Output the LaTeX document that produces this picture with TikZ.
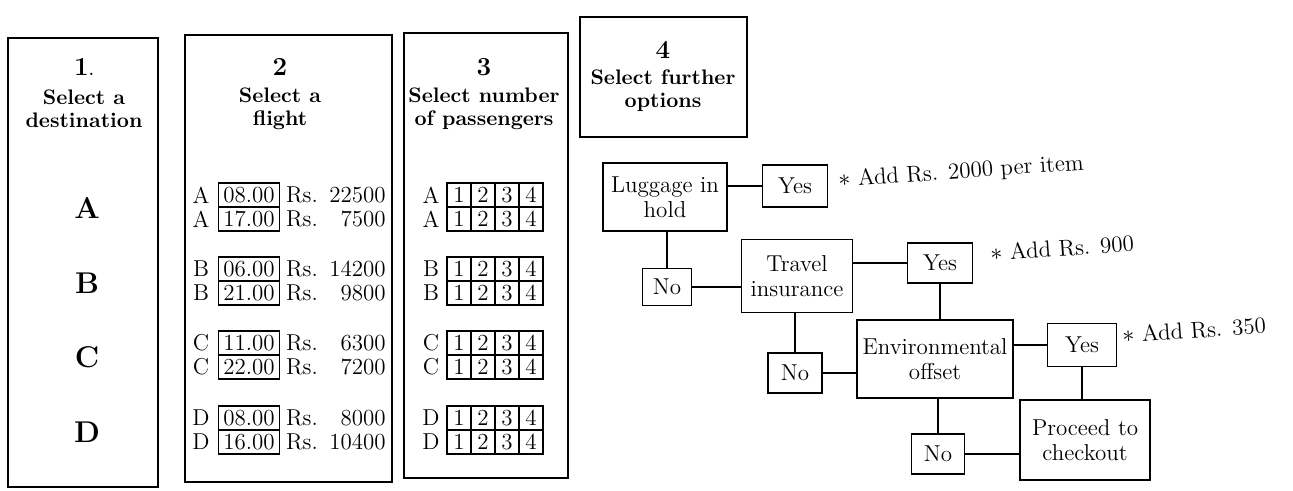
\documentclass[tikz,border=0pt]{standalone}
\usepackage{fontspec}
\begin{document}
\begin{tikzpicture}[x=0.5pt,y=-0.5pt,
  panel/.style={draw,line width=1pt},
  headnum/.style={font=\fontsize{13}{15}\bfseries\selectfont,inner sep=0},
  headtxt/.style={font=\fontsize{10.5}{11.5}\bfseries\selectfont,align=center,inner sep=0},
  dest/.style={font=\fontsize{15}{17}\bfseries\selectfont,inner sep=0},
  rowtxt/.style={font=\fontsize{11.5}{13}\selectfont,inner sep=0},
  tbox/.style={rowtxt,draw,line width=0.8pt,minimum width=30.5pt,minimum height=12pt},
  cell/.style={rowtxt,draw,line width=0.8pt,minimum width=12pt,minimum height=12pt},
  box/.style={draw,line width=0.9pt,align=center,inner sep=0,
              font=\fontsize{11.5}{12.5}\selectfont},
  note/.style={font=\fontsize{11.5}{13}\selectfont,inner sep=0,anchor=west,rotate=4},
  link/.style={line width=0.9pt}]
\useasboundingbox (0,0) rectangle (1293,491);
\fill[white] (0,0) rectangle (1293,491);

% ---- the four column frames ----
\draw[panel] (8,38) rectangle (158,487);
\draw[panel] (185,35) rectangle (392,482);
\draw[panel] (404,33) rectangle (568,478);
\draw[panel] (580,17) rectangle (747,137);

% ---- column headings ----
\node[headnum] (n1) at (84,67) {1{\scriptsize.}};
\node[headtxt] (h1) at (84,109) {Select a\\destination};
\node[headnum] (n2) at (280,67) {2};
\node[headtxt] (h2) at (280,109) {Select a\\flight};
\node[headnum] (n3) at (484,67) {3};
\node[headtxt] (h3) at (484,109) {Select number\\of passengers};
\node[headnum] (n4) at (663,50) {4};
\node[headtxt] (h4) at (663,91) {Select further\\options};

% ---- 1: destinations ----
\node[dest] (dA) at (87,208) {A};
\node[dest] (dB) at (87,283) {B};
\node[dest] (dC) at (87,357) {C};
\node[dest] (dD) at (87,432) {D};

% ---- 2: flights (letter, time, fare) ----
\foreach \g/\y/\ta/\pa/\tb/\pb in {A/195/08.00/22500/17.00/7500,
                                   B/269/06.00/14200/21.00/9800,
                                   C/343/11.00/6300/22.00/7200,
                                   D/418/08.00/8000/16.00/10400}{
  \node[rowtxt] (fl-\g-1) at (201,\y) {\g};
  \node[tbox]   (ft-\g-1) at (249,\y) {\ta};
  \node[rowtxt] (fr-\g-1) at (302,\y) {Rs.};
  \node[rowtxt,anchor=east] (fp-\g-1) at (386,\y) {\pa};
  \node[rowtxt] (fl-\g-2) at (201,\y+24) {\g};
  \node[tbox]   (ft-\g-2) at (249,\y+24) {\tb};
  \node[rowtxt] (fr-\g-2) at (302,\y+24) {Rs.};
  \node[rowtxt,anchor=east] (fp-\g-2) at (386,\y+24) {\pb};
}

% ---- 3: passenger grids ----
\foreach \g/\y in {A/195,B/269,C/343,D/418}{
  \foreach \r/\dy in {1/0,2/24}{
    \node[rowtxt] (pl-\g-\r) at (431,\y+\dy) {\g};
    \foreach \k in {1,2,3,4}{
      \node[cell] (pc-\g-\r-\k) at (435+24*\k,\y+\dy) {\k};
    }
  }
}

% ---- 4: further options flow ----
\node[box,minimum width=62pt,minimum height=34pt]   (lug)  at (665,197)  {Luggage in\\hold};
\node[box,minimum width=32.5pt,minimum height=21pt] (yes1) at (795,186)  {Yes};
\node[box,minimum width=24.5pt,minimum height=18.5pt] (no1) at (667,287) {No};
\node[box,minimum width=55.5pt,minimum height=36.5pt] (trav) at (797,276) {Travel\\insurance};
\node[box,minimum width=32.5pt,minimum height=20pt] (yes2) at (940,263)  {Yes};
\node[box,minimum width=27pt,minimum height=20pt]   (no2)  at (795,373)  {No};
\node[box,minimum width=78pt,minimum height=39pt]   (env)  at (935,359)  {Environmental\\offset};
\node[box,minimum width=34.5pt,minimum height=21.5pt] (yes3) at (1082,345) {Yes};
\node[box,minimum width=26.5pt,minimum height=20pt] (no3)  at (938,454)  {No};
\node[box,minimum width=65pt,minimum height=40pt]   (proc) at (1085,440) {Proceed to\\checkout};

\node[note] (c1) at (838,181) {$\ast$ Add Rs. 2000 per item};
\node[note] (c2) at (990,253) {$\ast$ Add Rs. 900};
\node[note] (c3) at (1122,335) {$\ast$ Add Rs. 350};

\draw[link] (yes1.west -| lug.east) -- (yes1.west);
\draw[link] (no1.north |- lug.south) -- (no1.north);
\draw[link] (no1.east) -- (no1.east -| trav.west);
\draw[link] (yes2.west -| trav.east) -- (yes2.west);
\draw[link] (no2.north |- trav.south) -- (no2.north);
\draw[link] (yes2.south) -- (yes2.south |- env.north);
\draw[link] (no2.east) -- (no2.east -| env.west);
\draw[link] (yes3.west -| env.east) -- (yes3.west);
\draw[link] (no3.north |- env.south) -- (no3.north);
\draw[link] (yes3.south) -- (yes3.south |- proc.north);
\draw[link] (no3.east) -- (no3.east -| proc.west);
\end{tikzpicture}
\end{document}
